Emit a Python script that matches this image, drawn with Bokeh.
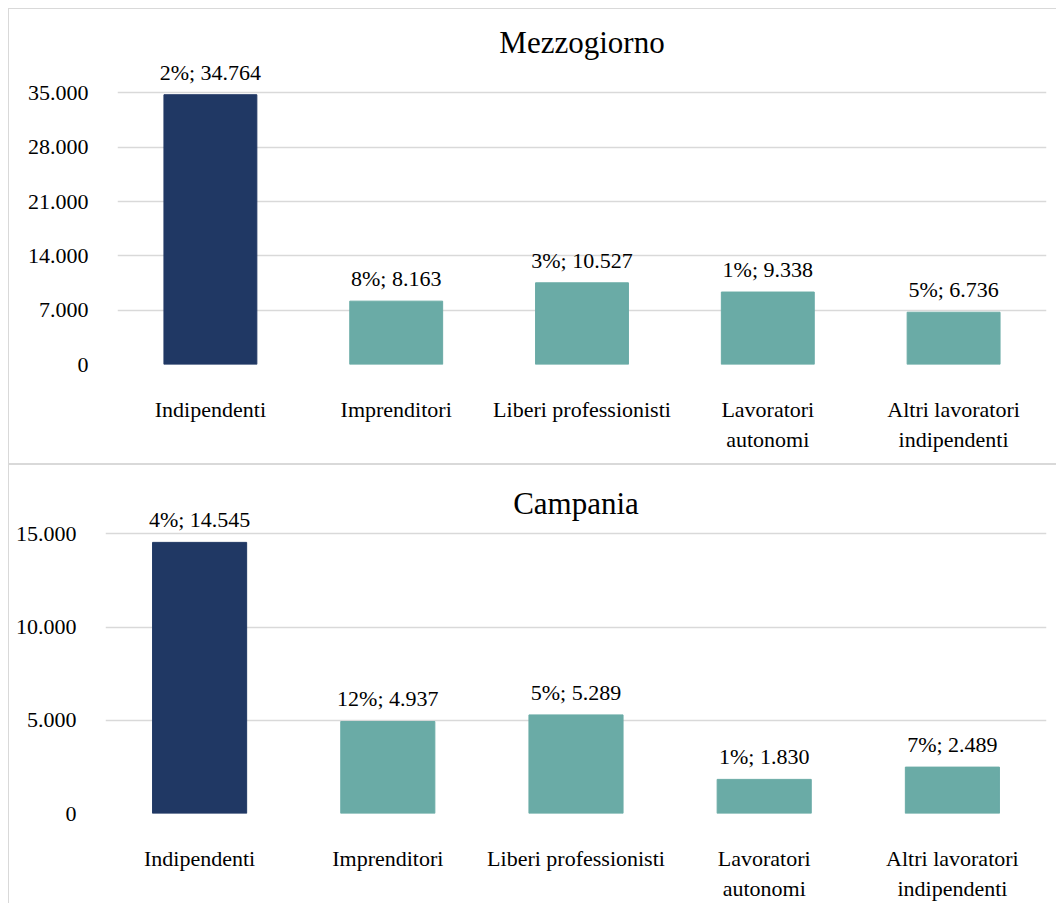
from bokeh.plotting import figure
from bokeh.models import FixedTicker, Label, ColumnDataSource
from bokeh.embed import file_html
from bokeh.resources import INLINE
from bokeh.core.properties import value

categories = ["Indipendenti", "Imprenditori", "Liberi professionisti",
              "Lavoratori\nautonomi", "Altri lavoratori\nindipendenti"]
mezzogiorno_values = [34764, 8163, 10527, 9338, 6736]
mezzogiorno_pct = [2, 8, 3, 1, 5]
campania_values = [14545, 4937, 5289, 1830, 2489]
campania_pct = [4, 12, 5, 1, 7]
mezzogiorno_ticks = [0, 7000, 14000, 21000, 28000, 35000]
campania_ticks = [0, 5000, 10000, 15000]

NAVY = "#203864"
TEAL = "#6aaba6"
GRID = "#d9d9d9"
FONT = "Liberation Serif"


def fmt(v):
    return f"{v:,}".replace(",", ".")


def make_panel(title, vals, pcts, ticks, y_end, title_y, height, min_left, min_top,
               min_bottom, bottom_border, margin):
    p = figure(x_range=categories, y_range=(0, y_end), width=1048, height=height,
               output_backend="svg", toolbar_location=None,
               min_border_left=min_left, min_border_right=11,
               min_border_top=min_top, min_border_bottom=min_bottom, margin=margin)
    st = {"border-top": f"1px solid {GRID}", "border-left": f"1px solid {GRID}"}
    if bottom_border:
        st["border-bottom"] = f"1px solid {GRID}"
    p.styles = st
    colors = [NAVY] + [TEAL] * (len(vals) - 1)
    labels = [f"{pc}%; {fmt(v)}" for pc, v in zip(pcts, vals)]
    src = ColumnDataSource(dict(cat=categories, val=vals, color=colors, label=labels))
    p.vbar(x="cat", top="val", width=0.5, color="color", source=src)
    p.text(x="cat", y="val", text="label", source=src, text_align="center",
           text_baseline="bottom", y_offset=-10, text_font=value(FONT),
           text_font_size="22px", text_color="#000000")
    p.add_layout(Label(x=2.5, y=title_y, text=title, text_align="center",
                       text_baseline="middle", text_font=FONT, text_font_size="31px",
                       text_color="#000000"))
    p.outline_line_color = None
    p.xgrid.visible = False
    p.ygrid.ticker = FixedTicker(ticks=ticks)
    p.ygrid.grid_line_color = GRID
    p.ygrid.grid_line_width = 1.5
    p.yaxis.ticker = FixedTicker(ticks=ticks)
    p.yaxis.major_label_overrides = {t: fmt(t) for t in ticks}
    for ax in (p.xaxis, p.yaxis):
        ax.axis_line_color = None
        ax.major_tick_line_color = None
        ax.minor_tick_line_color = None
        ax.major_label_text_font = FONT
        ax.major_label_text_font_size = "22px"
        ax.major_label_text_color = "#000000"
    p.yaxis.major_label_standoff = 23
    p.xaxis.major_label_standoff = 26
    return p


p1 = make_panel("Mezzogiorno", mezzogiorno_values, mezzogiorno_pct, mezzogiorno_ticks,
                44200, 41480, 456, 108, 12, 101, True, (8, 0, 0, 8))
p2 = make_panel("Campania", campania_values, campania_pct, campania_ticks,
                18080, 16620, 439, 96, 11, 91, False, (0, 0, 0, 8))

open("out.html", "w").write(file_html([p1, p2], INLINE))
